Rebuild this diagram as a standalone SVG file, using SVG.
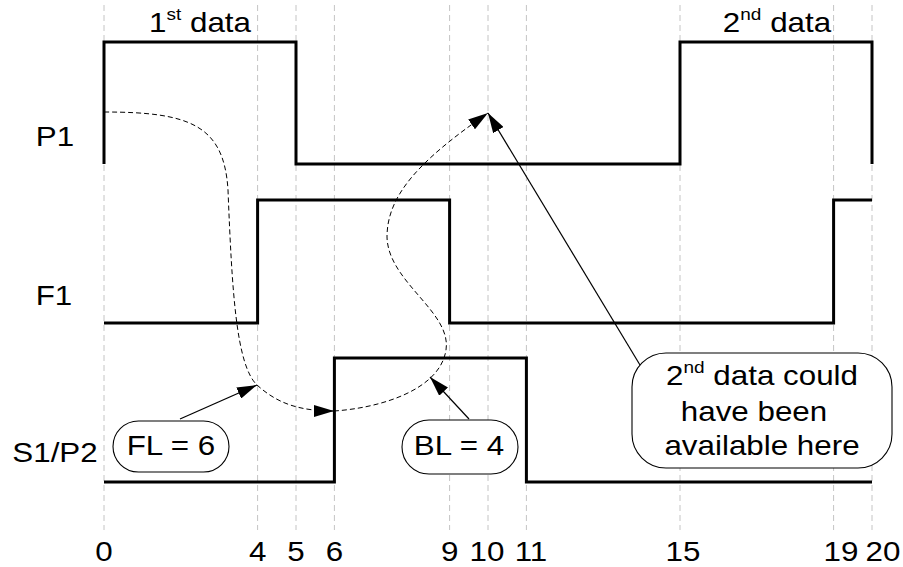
<svg xmlns="http://www.w3.org/2000/svg" width="903" height="567" viewBox="0 0 903 567">
  <style>
    .grid { stroke: #c4c4c4; stroke-width: 1; stroke-dasharray: 6 4; fill: none; }
    .sig { stroke: #000; stroke-width: 3; fill: none; stroke-linejoin: miter; stroke-linecap: butt; }
    .flow { stroke: #000; stroke-width: 1; stroke-dasharray: 5 3; fill: none; }
    .ptr { stroke: #000; stroke-width: 1.2; fill: none; }
    .pill { fill: #fff; stroke: #000; stroke-width: 1.1; }
    text { font-family: "Liberation Sans", Arial, sans-serif; font-size: 28px; fill: #000; }
    .mid { text-anchor: middle; }
    .sup { font-size: 17px; }
  </style>
  <defs>
    <marker id="head" viewBox="0 0 20 12" refX="20" refY="6" markerWidth="20" markerHeight="12" markerUnits="userSpaceOnUse" orient="auto">
      <path d="M0,0 L20,6 L0,12 Z" fill="#000" stroke="none"/>
    </marker>
  </defs>

  <!-- time gridlines -->
  <g id="grid">
    <line class="grid" x1="104" y1="5" x2="104" y2="530"/>
    <line class="grid" x1="257.6" y1="5" x2="257.6" y2="530"/>
    <line class="grid" x1="296" y1="5" x2="296" y2="530"/>
    <line class="grid" x1="334.4" y1="5" x2="334.4" y2="530"/>
    <line class="grid" x1="449.6" y1="5" x2="449.6" y2="530"/>
    <line class="grid" x1="488" y1="5" x2="488" y2="530"/>
    <line class="grid" x1="526.4" y1="5" x2="526.4" y2="530"/>
    <line class="grid" x1="680" y1="5" x2="680" y2="530"/>
    <line class="grid" x1="833.6" y1="5" x2="833.6" y2="530"/>
    <line class="grid" x1="872" y1="5" x2="872" y2="530"/>
  </g>

  <!-- time axis labels -->
  <g id="axis">
    <text class="mid" transform="translate(104,561) scale(1.12,1)">0</text>
    <text class="mid" transform="translate(257.6,561) scale(1.12,1)">4</text>
    <text class="mid" transform="translate(296,561) scale(1.12,1)">5</text>
    <text class="mid" transform="translate(334.4,561) scale(1.12,1)">6</text>
    <text class="mid" transform="translate(449.6,561) scale(1.12,1)">9</text>
    <text class="mid" transform="translate(487,561) scale(1.12,1)">10</text>
    <text class="mid" transform="translate(531,561) scale(1.12,1)">11</text>
    <text class="mid" transform="translate(683,561) scale(1.12,1)">15</text>
    <text class="mid" transform="translate(841,561) scale(1.12,1)">19</text>
    <text class="mid" transform="translate(883,561) scale(1.12,1)">20</text>
  </g>

  <!-- signal P1 -->
  <g id="P1">
    <text class="mid" transform="translate(55,146) scale(1.12,1)">P1</text>
    <path class="sig" d="M104,164 V42 H296 V164 H680 V42 H872 V164"/>
    <text class="mid" transform="translate(200,32) scale(1.12,1)">1<tspan class="sup" dy="-12">st</tspan><tspan dy="12"> data</tspan></text>
    <text class="mid" transform="translate(777,32) scale(1.12,1)">2<tspan class="sup" dy="-12">nd</tspan><tspan dy="12"> data</tspan></text>
  </g>

  <!-- signal F1 -->
  <g id="F1">
    <text class="mid" transform="translate(54,305) scale(1.12,1)">F1</text>
    <path class="sig" d="M104,323 H257.6 V200 H449.6 V323 H833.6 V200 H872"/>
  </g>

  <!-- signal S1/P2 -->
  <g id="S1P2">
    <text class="mid" transform="translate(55,462) scale(1.12,1)">S1/P2</text>
    <path class="sig" d="M104,482 H334.4 V358 H526.4 V482 H872"/>
  </g>

  <!-- latency callouts -->
  <g id="FL">
    <rect class="pill" x="113" y="421" width="116" height="51" rx="25.5" ry="25.5"/>
    <text class="mid" transform="translate(171,455) scale(1.12,1)">FL = 6</text>
  </g>
  <g id="BL">
    <rect class="pill" x="402" y="420" width="116" height="54" rx="27" ry="27"/>
    <text class="mid" transform="translate(459,455) scale(1.12,1)">BL = 4</text>
  </g>
  <g id="note">
    <rect class="pill" x="632" y="353" width="260" height="115" rx="34" ry="34"/>
    <text class="mid" transform="translate(762,385) scale(1.12,1)">2<tspan class="sup" dy="-12">nd</tspan><tspan dy="12"> data could</tspan></text>
    <text class="mid" transform="translate(754,421) scale(1.12,1)">have been</text>
    <text class="mid" transform="translate(762,455) scale(1.12,1)">available here</text>
  </g>

  <!-- connectors -->
  <g id="connectors">
    <path class="flow" d="M104,112 C190,112 224,125 228,190 C232,290 236,365 257,385 C278,404 300,411 334,411" marker-end="url(#head)"/>
    <path class="flow" d="M334,411 C380,408 440,390 446,350 C452,312 388,282 387,237 C387,195 420,160 488,113" marker-end="url(#head)"/>
    <line class="ptr" x1="180" y1="419" x2="257" y2="385" marker-end="url(#head)"/>
    <line class="ptr" x1="469" y1="419" x2="430" y2="377" marker-end="url(#head)"/>
    <line class="ptr" x1="640" y1="365" x2="488" y2="113" marker-end="url(#head)"/>
  </g>
</svg>
